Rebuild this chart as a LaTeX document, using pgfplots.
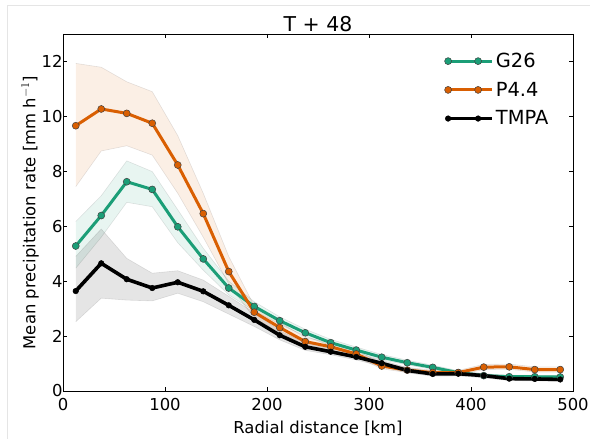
\documentclass[border=0pt]{standalone}
\usepackage{pgfplots}
\pgfplotsset{compat=1.18}
\usepgfplotslibrary{fillbetween}
\usepackage{pgfplotstable}
\usepackage{fontspec}
\setmainfont{DejaVu Sans}
\definecolor{cg}{HTML}{1B9E77}
\definecolor{co}{HTML}{D95F02}
\pgfplotstableread{
x g glo ghi p plo phi t tlo thi
12.5 5.28 4.47 6.17 9.66 7.44 11.93 3.64 2.52 4.90
37.5 6.39 5.60 7.11 10.27 8.74 11.79 4.65 3.38 5.90
62.5 7.62 6.87 8.38 10.11 8.93 11.26 4.07 3.31 4.83
87.5 7.34 6.71 7.99 9.75 8.59 10.90 3.75 3.28 4.29
112.5 5.98 5.40 6.60 8.23 7.20 9.30 3.96 3.56 4.38
137.5 4.81 4.40 5.20 6.46 5.60 7.20 3.63 3.25 4.04
162.5 3.75 3.50 4.00 4.35 3.90 4.90 3.12 2.80 3.45
187.5 3.08 2.92 3.25 2.87 2.65 3.10 2.59 2.35 2.85
212.5 2.56 2.43 2.70 2.31 2.13 2.50 2.03 1.86 2.20
237.5 2.12 2.00 2.25 1.80 1.66 1.95 1.61 1.48 1.75
262.5 1.76 1.65 1.88 1.61 1.48 1.75 1.43 1.32 1.55
287.5 1.49 1.39 1.60 1.35 1.23 1.48 1.24 1.13 1.35
312.5 1.23 1.14 1.33 0.91 0.81 1.02 1.01 0.90 1.12
337.5 1.03 0.95 1.12 0.76 0.67 0.86 0.75 0.66 0.85
362.5 0.86 0.79 0.94 0.67 0.59 0.76 0.62 0.54 0.71
387.5 0.67 0.61 0.74 0.67 0.59 0.75 0.63 0.55 0.71
412.5 0.56 0.51 0.62 0.87 0.78 0.97 0.56 0.48 0.64
437.5 0.52 0.47 0.58 0.88 0.79 0.98 0.45 0.38 0.53
462.5 0.52 0.47 0.57 0.78 0.69 0.88 0.44 0.37 0.52
487.5 0.51 0.46 0.56 0.78 0.69 0.88 0.42 0.35 0.50
}\data
\begin{document}
\begin{tikzpicture}
\begin{axis}[
  scale only axis, width=510bp, height=357bp,
  xmin=0, xmax=500, ymin=0, ymax=13,
  xtick={0,100,...,500}, ytick={0,2,...,12},
  tick align=inside, major tick length=4bp,
  tick style={black, line width=0.6pt},
  axis line style={line width=0.9pt},
  /pgf/number format/assume math mode=true,
  tick label style={font=\fontsize{16.5}{18}\selectfont},
  xticklabel style={yshift=-4bp},
  yticklabel style={xshift=3bp},
  label style={font=\fontsize{16.5}{18}\selectfont},
  title style={font=\fontsize{20.5}{22}\selectfont, yshift=-7bp},
  title={T + 48},
  xlabel={Radial distance [km]},
  ylabel={Mean precipitation rate [mm h$^{-1}$]},
  xlabel style={yshift=-3bp},
  ylabel style={yshift=-4bp},
  legend style={draw=none, fill=none, at={(0.742,0.958)}, anchor=north west,
    font=\fontsize{19.5}{21}\selectfont, row sep=9bp},
  legend cell align=left,
  legend image code/.code={\path (0bp,0bp) -- (44bp,0bp);
    \draw[#1] plot coordinates {(0bp,0bp) (30bp,0bp)};},
  band/.style={draw=black, draw opacity=0.1, line width=0.6pt, forget plot},
]
% bands
\addplot[band, name path=phi] table[x=x,y=phi]{\data};
\addplot[band, name path=plo] table[x=x,y=plo]{\data};
\addplot[co, fill opacity=0.1, forget plot] fill between[of=phi and plo];
\addplot[band, name path=ghi] table[x=x,y=ghi]{\data};
\addplot[band, name path=glo] table[x=x,y=glo]{\data};
\addplot[cg, fill opacity=0.1, forget plot] fill between[of=ghi and glo];
\addplot[band, name path=thi] table[x=x,y=thi]{\data};
\addplot[band, name path=tlo] table[x=x,y=tlo]{\data};
\addplot[black, fill opacity=0.1, forget plot] fill between[of=thi and tlo];
% lines
\addplot[cg, line width=3bp, mark=*, mark size=3.5bp,
  mark options={fill=cg, draw=black!75, line width=0.5pt}] table[x=x,y=g]{\data};
\addlegendentry{G26}
\addplot[co, line width=3bp, mark=*, mark size=3.5bp,
  mark options={fill=co, draw=black!75, line width=0.5pt}] table[x=x,y=p]{\data};
\addlegendentry{P4.4}
\addplot[black, line width=3.6bp, mark=*, mark size=2.8bp,
  mark options={fill=black, draw=black, line width=0.5pt}] table[x=x,y=t]{\data};
\addlegendentry{TMPA}
\end{axis}
\draw[black!10, line width=0.8pt] ([shift={(-56bp,-48bp)}]current axis.south west)
  -- ([shift={(-56bp,29bp)}]current axis.north west)
  -- ([shift={(17bp,29bp)}]current axis.north east);
\pgfresetboundingbox
\path[use as bounding box] ([shift={(-63bp,-48bp)}]current axis.south west)
  rectangle ([shift={(17bp,34bp)}]current axis.north east);
\end{tikzpicture}
\end{document}
